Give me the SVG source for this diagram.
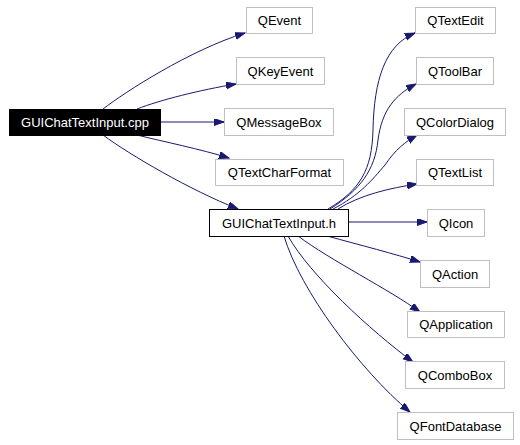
<svg xmlns="http://www.w3.org/2000/svg" width="520" height="445" viewBox="0 0 520 445">
<style>
.n rect{fill:#fff;stroke:#bfbfbf;stroke-width:1}
.n text{font-family:"Liberation Sans",Arial,sans-serif;font-size:13px;text-anchor:middle;fill:#000}
#cpp rect{fill:#000;stroke:#000}
#cpp text{fill:#fff}
#h rect{stroke:#000}
.e path{fill:none;stroke:#191970;stroke-width:1;marker-end:url(#a)}
</style>
<defs>
<marker id="a" markerUnits="userSpaceOnUse" markerWidth="11" markerHeight="8" refX="10" refY="3.5" orient="auto">
<path d="M0,0 L10,3.5 L0,7 z" fill="#191970" stroke="#191970" stroke-width="1"/>
</marker>
</defs>
<rect width="520" height="445" fill="#fff"/>
<g class="e" id="edges">
<path d="M103,109 C125,92 190,50 245,33"/>
<path d="M137,109 C160,100 200,90 236,84"/>
<path d="M161,122 L224,122"/>
<path d="M137,135 C165,142 200,149 229,158"/>
<path d="M103,135 C130,155 190,190 238,209"/>
<path d="M328,209 C360,190 372,170 373,130 C374,80 385,45 415,33"/>
<path d="M330,209 C360,190 375,170 378,140 C382,110 395,95 416,84"/>
<path d="M333,209 C360,195 372,180 385,165 C395,150 405,142 417,135"/>
<path d="M338,209 C360,195 390,188 417,184"/>
<path d="M348,222 L427,222"/>
<path d="M327,236 C360,245 395,254 420,262"/>
<path d="M298,236 C330,260 390,290 420,312"/>
<path d="M288,236 C310,275 370,330 413,362"/>
<path d="M284,236 C300,290 360,370 410,412"/>
</g>
<g class="n" id="cpp"><rect x="9.5" y="109.5" width="151" height="26"/><text x="85" y="127">GUIChatTextInput.cpp</text></g>
<g class="n" id="qevent"><rect x="246.5" y="7.5" width="66" height="26"/><text x="279.5" y="25">QEvent</text></g>
<g class="n" id="qkeyevent"><rect x="236.5" y="57.5" width="88" height="27"/><text x="280.5" y="76">QKeyEvent</text></g>
<g class="n" id="qmessagebox"><rect x="224.5" y="108.5" width="109" height="27"/><text x="279" y="127">QMessageBox</text></g>
<g class="n" id="qtextcharformat"><rect x="215.5" y="159.5" width="128" height="26"/><text x="279.5" y="177">QTextCharFormat</text></g>
<g class="n" id="h"><rect x="209.5" y="209.5" width="139" height="27"/><text x="279" y="228">GUIChatTextInput.h</text></g>
<g class="n" id="qtextedit"><rect x="415.5" y="7.5" width="80" height="26"/><text x="455.5" y="25">QTextEdit</text></g>
<g class="n" id="qtoolbar"><rect x="416.5" y="57.5" width="77" height="27"/><text x="455" y="76">QToolBar</text></g>
<g class="n" id="qcolordialog"><rect x="404.5" y="108.5" width="101" height="27"/><text x="455" y="127">QColorDialog</text></g>
<g class="n" id="qtextlist"><rect x="416.5" y="159.5" width="77" height="26"/><text x="455" y="177">QTextList</text></g>
<g class="n" id="qicon"><rect x="427.5" y="209.5" width="57" height="27"/><text x="456" y="228">QIcon</text></g>
<g class="n" id="qaction"><rect x="420.5" y="260.5" width="69" height="27"/><text x="455" y="279">QAction</text></g>
<g class="n" id="qapplication"><rect x="407.5" y="311.5" width="97" height="26"/><text x="456" y="329">QApplication</text></g>
<g class="n" id="qcombobox"><rect x="405.5" y="361.5" width="99" height="27"/><text x="455" y="380">QComboBox</text></g>
<g class="n" id="qfontdatabase"><rect x="397.5" y="412.5" width="116" height="27"/><text x="455.5" y="431">QFontDatabase</text></g>
</svg>
